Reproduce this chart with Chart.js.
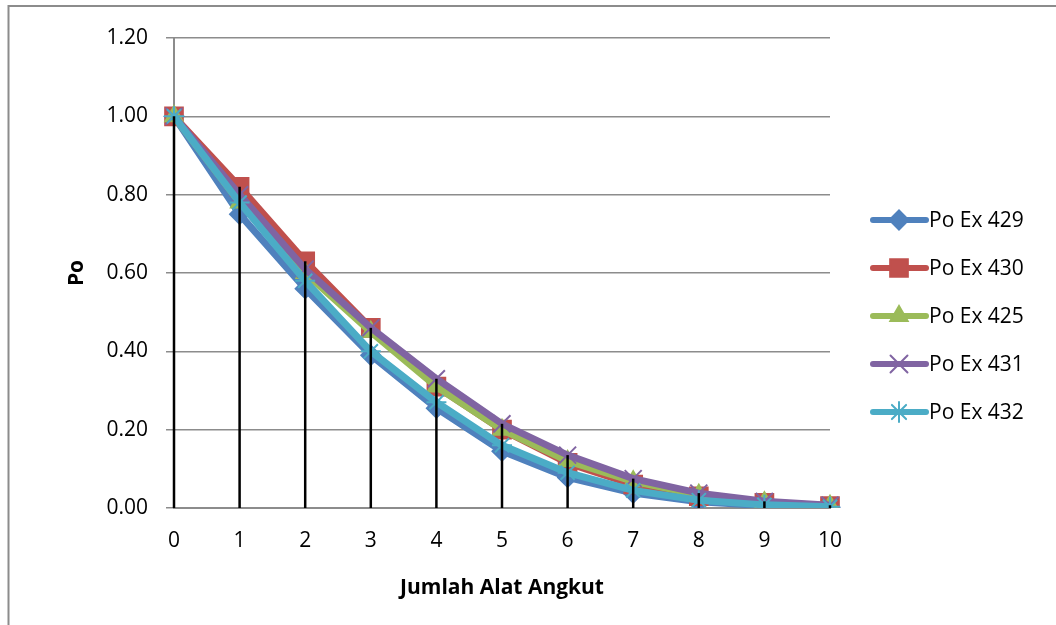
<!DOCTYPE html>
<html>
<head>
<meta charset="utf-8">
<script src="https://cdn.jsdelivr.net/npm/chart.js@4"></script>
<style>
  html, body { margin: 0; padding: 0; background: #fff; }
  #wrap { width: 1056px; height: 625px; position: relative; }
</style>
</head>
<body>
<div id="wrap"><canvas id="poChart" width="1056" height="625"></canvas></div>
<script>
// data
const jumlahAlat = ['0', '1', '2', '3', '4', '5', '6', '7', '8', '9', '10'];
const po429 = [1.00, 0.75, 0.56, 0.39, 0.255, 0.145, 0.078, 0.038, 0.016, 0.006, 0.002];
const po430 = [1.00, 0.82, 0.63, 0.46, 0.31, 0.20, 0.115, 0.060, 0.030, 0.013, 0.005];
const po425 = [1.00, 0.78, 0.60, 0.45, 0.31, 0.20, 0.120, 0.068, 0.034, 0.015, 0.006];
const po431 = [1.00, 0.80, 0.61, 0.46, 0.33, 0.215, 0.135, 0.075, 0.038, 0.017, 0.007];
const po432 = [1.00, 0.78, 0.58, 0.40, 0.27, 0.160, 0.090, 0.045, 0.020, 0.008, 0.003];
const yTicks = [0, 0.2, 0.4, 0.6, 0.8, 1.0, 1.2];

const series = [
    { label: 'Po Ex 429', data: po429, color: '#4F81BD', style: 'rectRot', r: 9.5 },
    { label: 'Po Ex 430', data: po430, color: '#C0504D', style: 'rect', r: 12.5 },
    { label: 'Po Ex 425', data: po425, color: '#9BBB59', style: 'triangle', r: 10 },
    { label: 'Po Ex 431', data: po431, color: '#8064A2', style: 'crossRot', r: 12 },
    { label: 'Po Ex 432', data: po432, color: '#4BACC6', style: 'star', r: 10 }
];

const FONT = '"Open Sans", "Noto Sans", sans-serif';
const FSIZE = 21;
Chart.defaults.font.family = FONT;
Chart.defaults.font.size = FSIZE;
Chart.defaults.color = '#000';

// frame border + drop lines + legend drawn by hand
const extras = {
    id: 'extras',
    beforeDraw(chart) {
        const c = chart.ctx;
        c.save();
        c.strokeStyle = '#8c8c8c';
        c.lineWidth = 2;
        c.beginPath();
        c.moveTo(1056, 6);
        c.lineTo(8.5, 6);
        c.lineTo(8.5, 625);
        c.stroke();
        c.restore();
    },
    afterDatasetsDraw(chart) {
        const c = chart.ctx;
        const xs = chart.scales.x, ys = chart.scales.y;
        c.save();
        c.strokeStyle = '#000';
        c.lineWidth = 2.5;
        jumlahAlat.forEach((lbl, i) => {
            const top = Math.max(...series.map(s => s.data[i]));
            const x = xs.getPixelForValue(i);
            c.beginPath();
            c.moveTo(x, ys.getPixelForValue(top));
            c.lineTo(x, ys.getPixelForValue(0));
            c.stroke();
        });
        c.restore();
    },
    afterDraw(chart) {
        const c = chart.ctx;
        c.save();
        series.forEach((s, i) => {
            const y = 220 + 48 * i;
            c.strokeStyle = s.color;
            c.lineWidth = 6;
            c.lineCap = 'round';
            c.beginPath();
            c.moveTo(873, y);
            c.lineTo(926, y);
            c.stroke();
            c.fillStyle = s.color;
            c.strokeStyle = s.color;
            c.lineWidth = 2;
            Chart.helpers.drawPoint(c, { pointStyle: s.style, radius: s.r, rotation: 0, borderWidth: 2 }, 899, y);
            c.fillStyle = '#000';
            c.font = FSIZE + 'px ' + FONT;
            c.textBaseline = 'middle';
            c.fillText(s.label, 929, y + 1);
        });
        c.restore();
    }
};

new Chart(document.getElementById('poChart'), {
    type: 'line',
    data: {
        labels: jumlahAlat,
        datasets: series.map((s, i) => ({
            label: s.label,
            data: s.data,
            borderColor: s.color,
            backgroundColor: s.color,
            borderWidth: 7,
            pointStyle: s.style,
            pointRadius: s.r,
            pointBorderWidth: 2,
            pointBorderColor: s.color,
            pointBackgroundColor: s.color,
            tension: 0,
            order: series.length - i
        }))
    },
    options: {
        responsive: false,
        animation: false,
        layout: { padding: { top: 38, right: 226, left: 0, bottom: 0 } },
        plugins: { legend: { display: false }, tooltip: { enabled: false } },
        scales: {
            x: {
                offset: false,
                grid: { display: false },
                border: { color: '#8c8c8c', width: 2 },
                ticks: { padding: 12, maxRotation: 0 },
                title: { display: true, text: 'Jumlah Alat Angkut', font: { weight: 'bold', size: FSIZE }, padding: { top: 12, bottom: 24 } },
                afterFit: scale => { scale.height = 117; }
            },
            y: {
                min: 0,
                max: 1.2,
                afterBuildTicks: scale => { scale.ticks = yTicks.map(v => ({ value: v })); },
                grid: { color: '#8c8c8c', lineWidth: 1.5, tickLength: 8 },
                border: { color: '#8c8c8c', width: 2 },
                ticks: { padding: 18, callback: v => v.toFixed(2) },
                title: { display: true, text: 'Po', font: { weight: 'bold', size: FSIZE }, padding: { top: 64, bottom: 0 } },
                afterFit: scale => { scale.width = 174; }
            }
        }
    },
    plugins: [extras]
});
</script>
</body>
</html>
